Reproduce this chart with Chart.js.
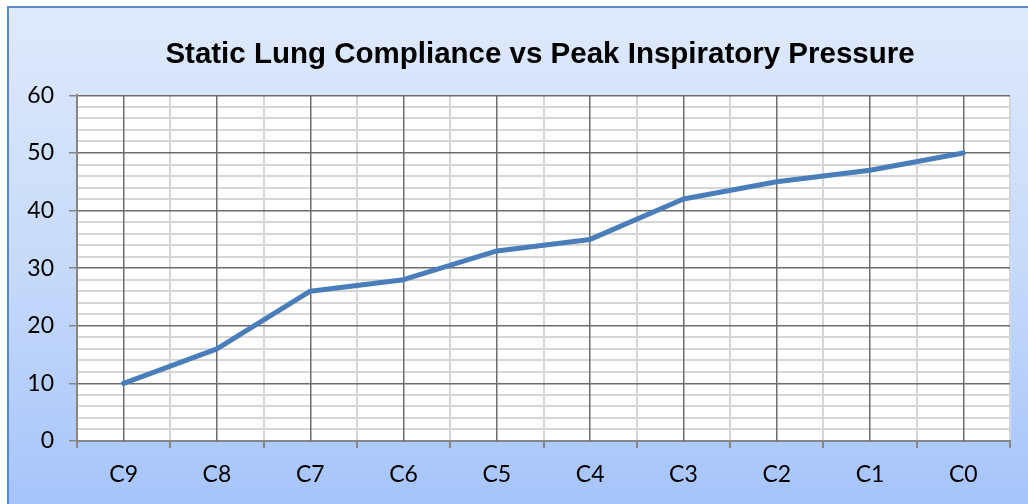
<!DOCTYPE html>
<html>
<head>
<meta charset="utf-8">
<script src="https://cdn.jsdelivr.net/npm/chart.js@4/dist/chart.umd.min.js"></script>
<style>
  html, body { margin: 0; padding: 0; overflow: hidden; background: #fff; }
  #frame {
    position: absolute; left: 7px; top: 6px;
    width: 1100px; height: 520px;
    border: 2px solid #5b88c6;
    background: linear-gradient(to bottom, #dfe9fc 0%, #c6daf9 50%, #a6c4fb 96%);
  }
  #wrap { position: absolute; left: 0; top: 0; width: 1062px; height: 496px; }
</style>
</head>
<body>
<div id="frame"><div id="wrap"><canvas id="chart"></canvas></div></div>
<script>
// category labels along the x axis
const categories = ['C9', 'C8', 'C7', 'C6', 'C5', 'C4', 'C3', 'C2', 'C1', 'C0'];
// static lung compliance per step
const compliance = [10, 16, 26, 28, 33, 35, 42, 45, 47, 50];
// y axis range and steps (labels every 10, light lines every 2)
const yMin = 0, yMax = 60, yMajor = 10, yMinor = 2;

const DARK = '#6c6c6c';
const LIGHT = '#d6d6d6';
const AXIS = '#868686';
const tickFont = { family: 'Lato, "Open Sans", sans-serif', size: 23 };

// white plot area behind the grid
const plotBg = {
  id: 'plotBg',
  beforeDraw(chart) {
    const { ctx, chartArea: a } = chart;
    ctx.save();
    ctx.fillStyle = '#ffffff';
    ctx.fillRect(a.left, a.top, a.right - a.left, a.bottom - a.top);
    ctx.restore();
  }
};

new Chart(document.getElementById('chart'), {
  type: 'line',
  data: {
    labels: categories,
    datasets: [{
      data: compliance,
      borderColor: '#4a7ebb',
      borderWidth: 5,
      borderCapStyle: 'round',
      borderJoinStyle: 'round',
      pointRadius: 0,
      tension: 0
    }]
  },
  options: {
    responsive: true,
    maintainAspectRatio: false,
    animation: false,
    layout: { padding: 0 },
    plugins: {
      legend: { display: false },
      tooltip: { enabled: false },
      title: {
        display: true,
        text: 'Static Lung Compliance vs Peak Inspiratory Pressure',
        color: '#000',
        font: { family: '"Liberation Sans", Arial, sans-serif', size: 29.5, weight: 'bold' },
        padding: { top: 29, bottom: 23 }
      }
    },
    scales: {
      x: {
        type: 'category',
        offset: true,
        position: 'bottom',
        grid: {
          offset: true,
          color: LIGHT,
          lineWidth: 2,
          tickColor: AXIS,
          tickLength: 7,
          z: -2
        },
        border: { color: AXIS, width: 2 },
        ticks: { color: '#000', padding: 13, font: tickFont },
        afterFit(s) { s.height = 63; }
      },
      // dark lines through each category centre
      x2: {
        type: 'category',
        offset: true,
        position: 'top',
        grid: { offset: false, color: DARK, lineWidth: 1.5, drawTicks: false, z: 0 },
        border: { display: false },
        ticks: { display: false }
      },
      y: {
        min: yMin,
        max: yMax,
        grid: {
          color: c => (c.tick && c.tick.value % yMajor === 0) ? (c.tick.value === yMin ? 'transparent' : DARK) : LIGHT,
          lineWidth: c => (c.tick && c.tick.value % yMajor === 0) ? 1.5 : 2,
          tickColor: c => (c.tick && c.tick.value % yMajor === 0) ? AXIS : 'transparent',
          tickLength: 8,
          z: -1
        },
        border: { color: AXIS, width: 2 },
        ticks: {
          stepSize: yMinor,
          autoSkip: false,
          padding: 15,
          color: '#000',
          font: tickFont,
          callback: v => (v % yMajor === 0 ? v : '')
        },
        afterFit(s) { s.width = 68; }
      },
      // empty right-hand margin so the title stays centred on the whole frame
      yPad: {
        position: 'right',
        min: yMin,
        max: yMax,
        grid: { display: false, drawTicks: false },
        border: { display: false },
        ticks: { display: false },
        afterFit(s) { s.width = 61; }
      }
    }
  },
  plugins: [plotBg]
});
</script>
</body>
</html>
